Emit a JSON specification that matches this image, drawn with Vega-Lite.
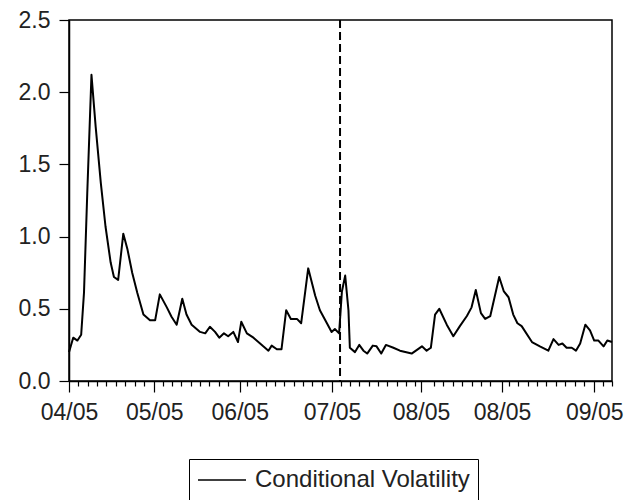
{
  "$schema": "https://vega.github.io/schema/vega-lite/v6.json",
  "width": 543,
  "height": 361,
  "autosize": "none",
  "padding": {"left": 69, "top": 20, "right": 17, "bottom": 119},
  "background": "white",
  "config": {
    "view": {"stroke": "black", "strokeWidth": 1.5},
    "axis": {"grid": false, "domainColor": "black", "domainWidth": 1.5, "tickColor": "black", "tickWidth": 1.2, "labelColor": "#222", "labelFont": "Liberation Sans", "labelFontSize": 23, "titleFont": "Liberation Sans"}
  },
  "layer": [
    {
      "data": {"values": [
        {"t": 0, "v": 0.20, "series": "Conditional Volatility"},
        {"t": 0.9, "v": 0.30, "series": "Conditional Volatility"},
        {"t": 1.8, "v": 0.28, "series": "Conditional Volatility"},
        {"t": 2.6, "v": 0.32, "series": "Conditional Volatility"},
        {"t": 3.2, "v": 0.61, "series": "Conditional Volatility"},
        {"t": 3.9, "v": 1.30, "series": "Conditional Volatility"},
        {"t": 4.8, "v": 2.12, "series": "Conditional Volatility"},
        {"t": 5.7, "v": 1.76, "series": "Conditional Volatility"},
        {"t": 6.8, "v": 1.37, "series": "Conditional Volatility"},
        {"t": 7.8, "v": 1.07, "series": "Conditional Volatility"},
        {"t": 8.9, "v": 0.82, "series": "Conditional Volatility"},
        {"t": 9.6, "v": 0.72, "series": "Conditional Volatility"},
        {"t": 10.5, "v": 0.70, "series": "Conditional Volatility"},
        {"t": 11.6, "v": 1.02, "series": "Conditional Volatility"},
        {"t": 12.5, "v": 0.91, "series": "Conditional Volatility"},
        {"t": 13.5, "v": 0.75, "series": "Conditional Volatility"},
        {"t": 14.6, "v": 0.61, "series": "Conditional Volatility"},
        {"t": 15.9, "v": 0.46, "series": "Conditional Volatility"},
        {"t": 17.3, "v": 0.42, "series": "Conditional Volatility"},
        {"t": 18.4, "v": 0.42, "series": "Conditional Volatility"},
        {"t": 19.4, "v": 0.60, "series": "Conditional Volatility"},
        {"t": 20.9, "v": 0.51, "series": "Conditional Volatility"},
        {"t": 21.9, "v": 0.445, "series": "Conditional Volatility"},
        {"t": 23.0, "v": 0.39, "series": "Conditional Volatility"},
        {"t": 24.2, "v": 0.57, "series": "Conditional Volatility"},
        {"t": 25.1, "v": 0.46, "series": "Conditional Volatility"},
        {"t": 26.2, "v": 0.39, "series": "Conditional Volatility"},
        {"t": 28.0, "v": 0.34, "series": "Conditional Volatility"},
        {"t": 29.1, "v": 0.33, "series": "Conditional Volatility"},
        {"t": 30.1, "v": 0.376, "series": "Conditional Volatility"},
        {"t": 31.2, "v": 0.34, "series": "Conditional Volatility"},
        {"t": 32.1, "v": 0.30, "series": "Conditional Volatility"},
        {"t": 33.1, "v": 0.33, "series": "Conditional Volatility"},
        {"t": 34.0, "v": 0.31, "series": "Conditional Volatility"},
        {"t": 35.1, "v": 0.34, "series": "Conditional Volatility"},
        {"t": 36.1, "v": 0.27, "series": "Conditional Volatility"},
        {"t": 36.8, "v": 0.41, "series": "Conditional Volatility"},
        {"t": 38.0, "v": 0.33, "series": "Conditional Volatility"},
        {"t": 39.4, "v": 0.30, "series": "Conditional Volatility"},
        {"t": 41.5, "v": 0.24, "series": "Conditional Volatility"},
        {"t": 42.6, "v": 0.21, "series": "Conditional Volatility"},
        {"t": 43.3, "v": 0.245, "series": "Conditional Volatility"},
        {"t": 44.4, "v": 0.22, "series": "Conditional Volatility"},
        {"t": 45.4, "v": 0.22, "series": "Conditional Volatility"},
        {"t": 46.4, "v": 0.49, "series": "Conditional Volatility"},
        {"t": 47.4, "v": 0.43, "series": "Conditional Volatility"},
        {"t": 48.7, "v": 0.43, "series": "Conditional Volatility"},
        {"t": 49.6, "v": 0.40, "series": "Conditional Volatility"},
        {"t": 51.1, "v": 0.78, "series": "Conditional Volatility"},
        {"t": 52.6, "v": 0.59, "series": "Conditional Volatility"},
        {"t": 53.6, "v": 0.49, "series": "Conditional Volatility"},
        {"t": 55.1, "v": 0.40, "series": "Conditional Volatility"},
        {"t": 56.1, "v": 0.34, "series": "Conditional Volatility"},
        {"t": 56.8, "v": 0.36, "series": "Conditional Volatility"},
        {"t": 57.7, "v": 0.33, "series": "Conditional Volatility"},
        {"t": 58.3, "v": 0.62, "series": "Conditional Volatility"},
        {"t": 59.0, "v": 0.73, "series": "Conditional Volatility"},
        {"t": 59.7, "v": 0.49, "series": "Conditional Volatility"},
        {"t": 60.0, "v": 0.23, "series": "Conditional Volatility"},
        {"t": 61.1, "v": 0.20, "series": "Conditional Volatility"},
        {"t": 62.0, "v": 0.25, "series": "Conditional Volatility"},
        {"t": 62.9, "v": 0.21, "series": "Conditional Volatility"},
        {"t": 63.7, "v": 0.19, "series": "Conditional Volatility"},
        {"t": 64.9, "v": 0.245, "series": "Conditional Volatility"},
        {"t": 65.7, "v": 0.24, "series": "Conditional Volatility"},
        {"t": 66.7, "v": 0.19, "series": "Conditional Volatility"},
        {"t": 67.7, "v": 0.25, "series": "Conditional Volatility"},
        {"t": 69.3, "v": 0.23, "series": "Conditional Volatility"},
        {"t": 70.7, "v": 0.21, "series": "Conditional Volatility"},
        {"t": 73.2, "v": 0.19, "series": "Conditional Volatility"},
        {"t": 75.4, "v": 0.24, "series": "Conditional Volatility"},
        {"t": 76.4, "v": 0.21, "series": "Conditional Volatility"},
        {"t": 77.3, "v": 0.23, "series": "Conditional Volatility"},
        {"t": 78.2, "v": 0.46, "series": "Conditional Volatility"},
        {"t": 79.1, "v": 0.50, "series": "Conditional Volatility"},
        {"t": 80.7, "v": 0.39, "series": "Conditional Volatility"},
        {"t": 82.1, "v": 0.31, "series": "Conditional Volatility"},
        {"t": 83.5, "v": 0.38, "series": "Conditional Volatility"},
        {"t": 85.0, "v": 0.45, "series": "Conditional Volatility"},
        {"t": 86.0, "v": 0.51, "series": "Conditional Volatility"},
        {"t": 86.9, "v": 0.63, "series": "Conditional Volatility"},
        {"t": 88.0, "v": 0.47, "series": "Conditional Volatility"},
        {"t": 88.9, "v": 0.43, "series": "Conditional Volatility"},
        {"t": 90.0, "v": 0.45, "series": "Conditional Volatility"},
        {"t": 91.9, "v": 0.72, "series": "Conditional Volatility"},
        {"t": 92.9, "v": 0.62, "series": "Conditional Volatility"},
        {"t": 93.9, "v": 0.58, "series": "Conditional Volatility"},
        {"t": 94.9, "v": 0.46, "series": "Conditional Volatility"},
        {"t": 95.8, "v": 0.40, "series": "Conditional Volatility"},
        {"t": 96.7, "v": 0.38, "series": "Conditional Volatility"},
        {"t": 98.9, "v": 0.27, "series": "Conditional Volatility"},
        {"t": 100.6, "v": 0.24, "series": "Conditional Volatility"},
        {"t": 102.4, "v": 0.21, "series": "Conditional Volatility"},
        {"t": 103.5, "v": 0.29, "series": "Conditional Volatility"},
        {"t": 104.6, "v": 0.25, "series": "Conditional Volatility"},
        {"t": 105.4, "v": 0.26, "series": "Conditional Volatility"},
        {"t": 106.3, "v": 0.23, "series": "Conditional Volatility"},
        {"t": 107.4, "v": 0.23, "series": "Conditional Volatility"},
        {"t": 108.3, "v": 0.21, "series": "Conditional Volatility"},
        {"t": 109.2, "v": 0.26, "series": "Conditional Volatility"},
        {"t": 110.3, "v": 0.39, "series": "Conditional Volatility"},
        {"t": 111.3, "v": 0.35, "series": "Conditional Volatility"},
        {"t": 112.2, "v": 0.28, "series": "Conditional Volatility"},
        {"t": 113.1, "v": 0.28, "series": "Conditional Volatility"},
        {"t": 114.2, "v": 0.24, "series": "Conditional Volatility"},
        {"t": 115.0, "v": 0.28, "series": "Conditional Volatility"},
        {"t": 116.0, "v": 0.27, "series": "Conditional Volatility"}
      ]},
      "mark": {"type": "line", "strokeWidth": 2, "strokeJoin": "round"},
      "encoding": {
        "x": {
          "field": "t", "type": "quantitative",
          "scale": {"domain": [0, 116], "nice": false, "zero": false},
          "axis": {
            "title": null,
            "tickCount": 1000,
            "values": [0, 2, 4, 6, 8, 10, 12, 14, 16, 18.2, 20, 22, 24, 26, 28, 30, 32, 34, 36.5, 38, 40, 42, 44, 46, 48, 50, 52, 54, 56.2, 58, 60, 62, 64, 66, 68, 70, 72, 74, 75.2, 78, 80, 82, 84, 86, 88, 90, 92.5, 94, 96, 98, 100, 102, 104, 106, 108, 110, 112.2, 114, 116],
            "labelExpr": "datum.value == 0 ? '04/05' : datum.value == 18.2 ? '05/05' : datum.value == 36.5 ? '06/05' : datum.value == 56.2 ? '07/05' : datum.value == 75.2 ? '08/05' : datum.value == 92.5 ? '08/05' : datum.value == 112.2 ? '09/05' : ''",
            "tickSize": {"condition": {"test": "indexof([0, 18.2, 36.5, 56.2, 75.2, 92.5, 112.2], datum.value) >= 0", "value": 11}, "value": 5},
            "labelPadding": 9,
            "labelFlush": false,
            "labelOverlap": false,
            "labelBound": false
          }
        },
        "y": {
          "field": "v", "type": "quantitative",
          "scale": {"domain": [0, 2.5], "nice": false},
          "axis": {"title": null, "values": [0, 0.5, 1, 1.5, 2, 2.5], "format": ".1f", "tickSize": 10, "labelPadding": 9, "labelFlush": false}
        },
        "color": {
          "field": "series", "type": "nominal",
          "scale": {"range": ["black"]},
          "legend": {
            "orient": "none", "legendX": 120, "legendY": 439,
            "title": null, "strokeColor": "black", "padding": 8,
            "symbolType": "M-1,0H3", "symbolSize": 576, "symbolStrokeWidth": 1.5,
            "symbolStrokeColor": "black", "symbolFillColor": "transparent",
            "labelFont": "Liberation Sans", "labelFontSize": 24, "labelColor": "#222",
            "labelOffset": 32, "labelLimit": 400
          }
        }
      }
    },
    {
      "data": {"values": [{"t": 57.9}]},
      "mark": {"type": "rule", "color": "black", "strokeWidth": 2, "strokeDash": [8, 4]},
      "encoding": {"x": {"field": "t", "type": "quantitative"}}
    }
  ]
}
